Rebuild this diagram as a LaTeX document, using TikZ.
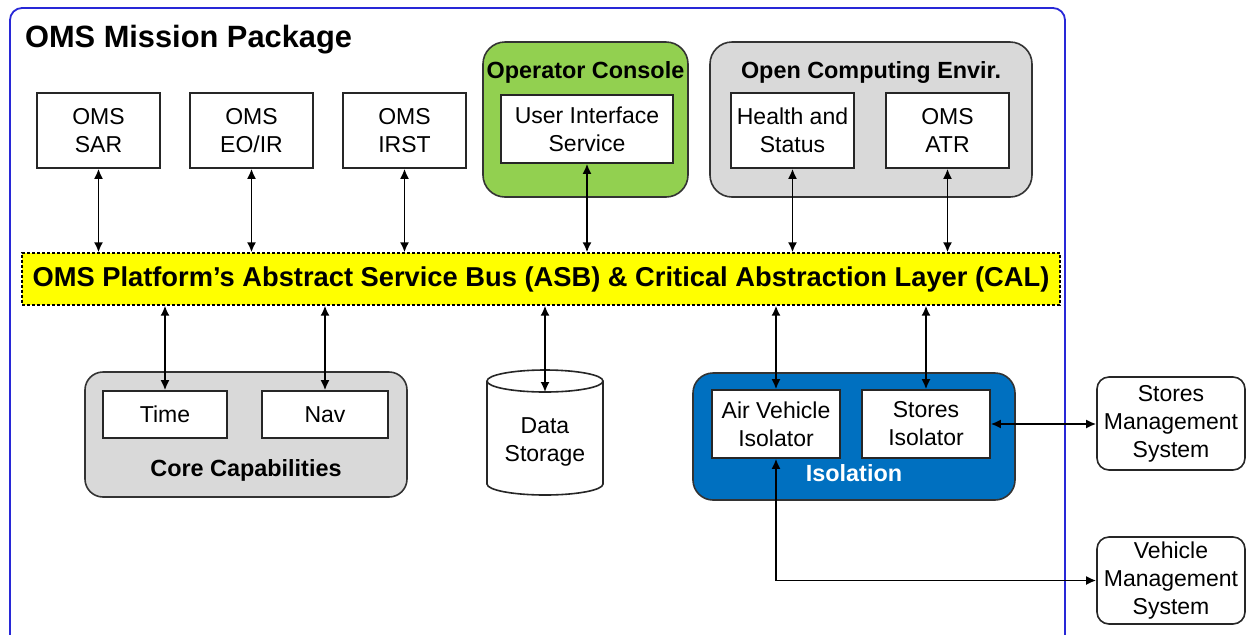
\documentclass[tikz,border=0pt]{standalone}
\usepackage{fontspec}
\setmainfont{Liberation Sans}
\usetikzlibrary{arrows.meta}

\definecolor{frameblue}{RGB}{40,40,215}
\definecolor{busyellow}{RGB}{255,255,0}
\definecolor{consolegreen}{RGB}{146,208,80}
\definecolor{groupgray}{RGB}{217,217,217}
\definecolor{isoblue}{RGB}{0,112,192}

\begin{document}
\begin{tikzpicture}[x=0.5pt,y=-0.5pt]
\tikzset{
	box/.style={draw=black!85, line width=0.8pt, fill=white, inner sep=0pt, align=center, font=\fontsize{11.5}{14}\selectfont},
	sensor/.style={box, minimum width=61.5pt, minimum height=37.5pt},
	ext/.style={box, rounded corners=6pt, minimum width=74pt},
	grp/.style={draw=black!80, line width=0.8pt, rounded corners=11pt, inner sep=0pt},
	lbl/.style={font=\bfseries\fontsize{11.7}{14}\selectfont},
	link/.style={<->, line width=0.85pt, >={Latex[length=5pt,width=4.5pt]}}
}

\clip (0,0) rectangle (1250,634);
\fill[white] (0,0) rectangle (1250,634);

% mission package frame
\draw[frameblue, line width=0.9pt, rounded corners=6pt] (10,8) rectangle (1065,650);
\node[anchor=west, font=\bfseries\fontsize{15.4}{18}\selectfont] (title) at(18,40) {OMS Mission Package};

% sensors
\node[sensor] (oms_sar) at(98.5,130.5) {OMS\\SAR};
\node[sensor] (oms_eoir) at(251.5,130.5) {OMS\\EO/IR};
\node[sensor] (oms_irst) at(404.5,130.5) {OMS\\IRST};

% operator console
\node[grp, fill=consolegreen, minimum width=102.5pt, minimum height=77.5pt] (console) at(585.5,119.5) {};
\node[lbl] (console_t) at(585.5,72) {Operator Console};
\node[box, minimum width=86pt, minimum height=34pt] (ui) at(587,129) {User Interface\\Service};

% open computing environment
\node[grp, fill=groupgray, minimum width=161pt, minimum height=77.5pt] (oce) at(871,119.5) {};
\node[lbl] (oce_t) at(871,72) {Open Computing Envir.};
\node[sensor] (health) at(792.5,130.5) {Health and\\Status};
\node[sensor] (oms_atr) at(947.5,130.5) {OMS\\ATR};

% ASB & CAL
\node[draw, line width=0.7pt, dash pattern=on 1.5pt off 1pt, fill=busyellow, inner sep=0pt,
	minimum width=519pt, minimum height=26pt, font=\bfseries\fontsize{13.65}{16}\selectfont] (asb) at(541,279)
	{OMS Platform’s Abstract Service Bus (ASB) \& Critical Abstraction Layer (CAL)};

% core capabilities
\node[grp, fill=groupgray, rounded corners=9pt, minimum width=161pt, minimum height=62.5pt] (core) at(246,434.5) {};
\node[box, minimum width=62pt, minimum height=23.5pt] (time) at(165,414.5) {Time};
\node[box, minimum width=63pt, minimum height=23.5pt] (nav) at(325,414.5) {Nav};
\node[lbl] (core_t) at(246,470) {Core Capabilities};

% data storage
\draw[line width=0.8pt, draw=black!85, fill=white] (487,381) -- (487,484)
	arc[start angle=180, end angle=0, x radius=58, y radius=11] -- (603,381);
\draw[line width=0.8pt, draw=black!85, fill=white] (545,381) ellipse [x radius=58, y radius=11];
\node[align=center, font=\fontsize{11.5}{14}\selectfont] (ds) at(545,442) {Data\\Storage};
\coordinate (ds_top) at(545,392);

% isolation
\node[grp, fill=isoblue, rounded corners=10pt, minimum width=161pt, minimum height=63.5pt] (iso) at(854,436.5) {};
\node[box, minimum width=64pt, minimum height=34pt] (avi) at(776,424) {Air Vehicle\\Isolator};
\node[box, minimum width=64pt, minimum height=34pt] (si) at(926,424) {Stores\\Isolator};
\node[lbl, text=white] (iso_t) at(854,473) {Isolation};

% outside the package
\node[ext, minimum height=46.5pt] (sms) at(1171,423.5) {Stores\\Management\\System};
\node[ext, minimum height=43.5pt] (vms) at(1171,580.5) {Vehicle\\Management\\System};

% links to the bus
\draw[link] (oms_sar.south) -- (oms_sar.south |- asb.north);
\draw[link] (oms_eoir.south) -- (oms_eoir.south |- asb.north);
\draw[link] (oms_irst.south) -- (oms_irst.south |- asb.north);
\draw[link] (ui.south) -- (ui.south |- asb.north);
\draw[link] (health.south) -- (health.south |- asb.north);
\draw[link] (oms_atr.south) -- (oms_atr.south |- asb.north);

\draw[link] (asb.south -| time.north) -- (time.north);
\draw[link] (asb.south -| nav.north) -- (nav.north);
\draw[link] (asb.south -| ds_top) -- (ds_top);
\draw[link] (asb.south -| avi.north) -- (avi.north);
\draw[link] (asb.south -| si.north) -- (si.north);

% isolators to external systems
\draw[link] (si.east) -- (si.east -| sms.west);
\draw[link] (avi.south) |- (vms.west);

\end{tikzpicture}
\end{document}
